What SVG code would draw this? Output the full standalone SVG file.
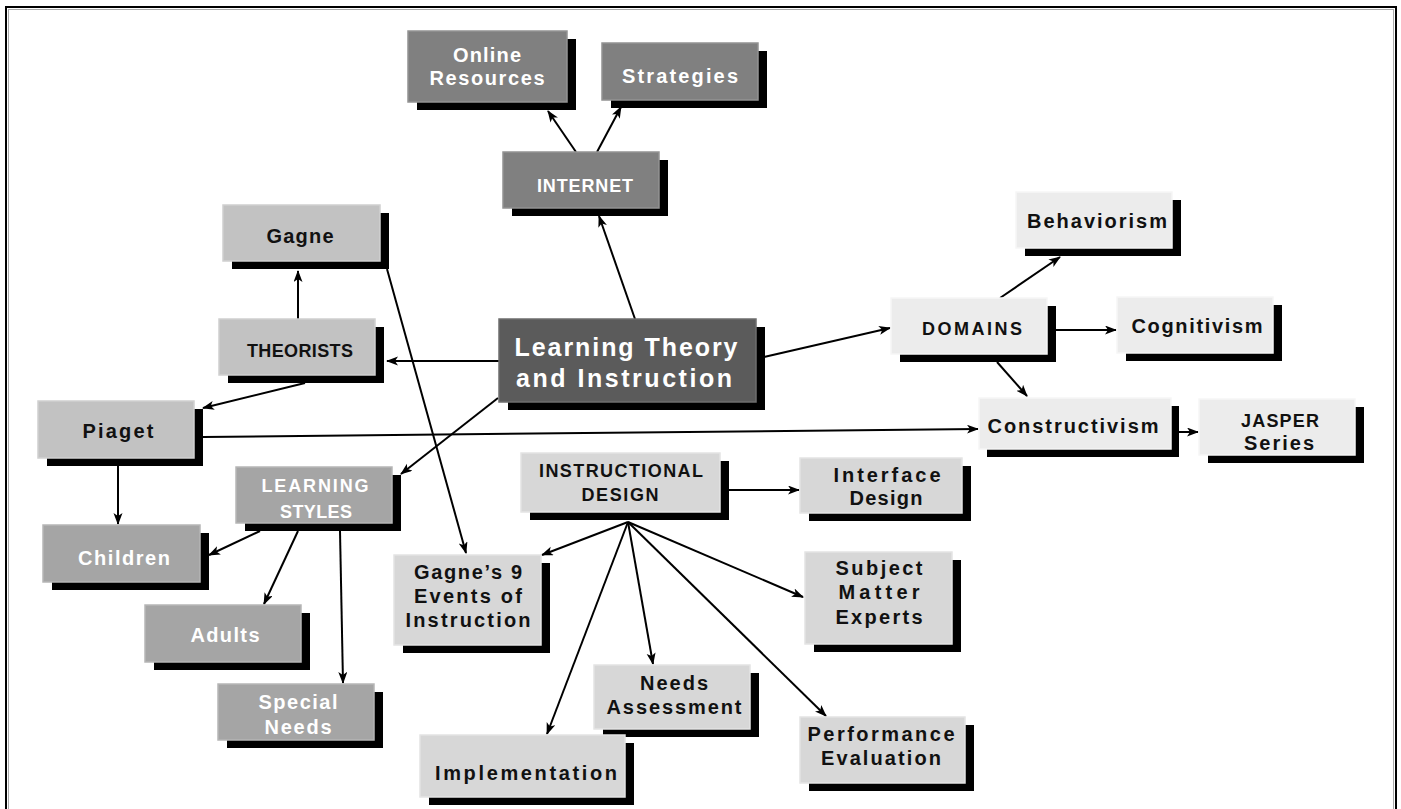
<svg xmlns="http://www.w3.org/2000/svg" width="1401" height="809" viewBox="0 0 1401 809">
<defs>
<marker id="ah" markerUnits="userSpaceOnUse" markerWidth="12" markerHeight="10" refX="11" refY="4.5" orient="auto">
<path d="M0,0 L12,4.5 L0,9 L3,4.5 z" fill="#000"/>
</marker>
</defs>
<style>
.sh{fill:#000}
.f{stroke-width:1.5}
.dk{fill:#5b5b5b;stroke:#6e6e6e}
.md{fill:#808080;stroke:#939393}
.ml{fill:#a5a5a5;stroke:#b6b6b6}
.lt{fill:#c2c2c2;stroke:#d0d0d0}
.lr{fill:#d7d7d7;stroke:#e4e4e4}
.ll{fill:#ececec;stroke:#f6f6f6}
text{font-family:"Liberation Sans",Arial,sans-serif;font-weight:bold;font-size:20px;text-anchor:middle}
.u{font-size:18px}
.w{fill:#fff}
.b{fill:#111}
.big{font-size:25px}
.c line{stroke:#000;stroke-width:2;marker-end:url(#ah)}
</style>
<rect x="6" y="7" width="1390" height="812" fill="#fff" stroke="#000" stroke-width="2"/>
<rect x="8.5" y="9.5" width="1385" height="810" fill="none" stroke="#aaa" stroke-width="1"/>

<g class="c" id="connectors">
<line x1="576" y1="152" x2="548" y2="111"/>
<line x1="597" y1="152" x2="621" y2="107"/>
<line x1="635" y1="319" x2="599" y2="216"/>
<line x1="499" y1="361" x2="387" y2="361"/>
<line x1="298" y1="319" x2="298" y2="271"/>
<line x1="305" y1="383" x2="203" y2="408"/>
<line x1="203" y1="437" x2="978" y2="429"/>
<line x1="118" y1="466" x2="118" y2="524"/>
<line x1="498" y1="398" x2="401" y2="474"/>
<line x1="387" y1="269" x2="466" y2="553"/>
<line x1="260" y1="531" x2="209" y2="555"/>
<line x1="298" y1="531" x2="264" y2="604"/>
<line x1="340" y1="531" x2="343" y2="683"/>
<line x1="764" y1="357" x2="890" y2="328"/>
<line x1="1000" y1="298" x2="1060" y2="257"/>
<line x1="1056" y1="330" x2="1116" y2="330"/>
<line x1="997" y1="362" x2="1027" y2="396"/>
<line x1="1178" y1="432" x2="1198" y2="432"/>
<line x1="729" y1="490" x2="799" y2="490"/>
<line x1="628" y1="522" x2="542" y2="555"/>
<line x1="628" y1="522" x2="547" y2="734"/>
<line x1="628" y1="522" x2="653" y2="664"/>
<line x1="628" y1="522" x2="803" y2="597"/>
<line x1="628" y1="522" x2="826" y2="716"/>
</g>

<g id="online-resources"><rect class="sh" x="417" y="39" width="159" height="71"/><rect class="f md" x="408" y="31" width="159" height="71"/><text class="w" x="487" y="62" textLength="68">Online</text><text class="w" x="487" y="85" textLength="115">Resources</text></g>
<g id="strategies"><rect class="sh" x="611" y="51" width="156" height="57"/><rect class="f md" x="602" y="43" width="156" height="57"/><text class="w" x="680" y="83" textLength="116">Strategies</text></g>
<g id="internet"><rect class="sh" x="512" y="160" width="156" height="56"/><rect class="f md" x="503" y="152" width="156" height="56"/><text class="w u" x="585" y="192" textLength="96">INTERNET</text></g>
<g id="gagne"><rect class="sh" x="232" y="213" width="157" height="56"/><rect class="f lt" x="223" y="205" width="157" height="56"/><text class="b" x="300" y="243" textLength="67">Gagne</text></g>
<g id="theorists"><rect class="sh" x="228" y="327" width="156" height="56"/><rect class="f lt" x="219" y="319" width="156" height="56"/><text class="b u" x="300" y="357" textLength="106">THEORISTS</text></g>
<g id="piaget"><rect class="sh" x="47" y="409" width="156" height="57"/><rect class="f lt" x="38" y="401" width="156" height="57"/><text class="b" x="118" y="438" textLength="71">Piaget</text></g>
<g id="learning-theory"><rect class="sh" x="508" y="327" width="257" height="83"/><rect class="f dk" x="499" y="319" width="257" height="83"/><text class="w big" x="626" y="356" textLength="223">Learning Theory</text><text class="w big" x="624" y="387" textLength="216">and Instruction</text></g>
<g id="domains"><rect class="sh" x="900" y="306" width="156" height="56"/><rect class="f ll" x="891" y="298" width="156" height="56"/><text class="b u" x="972" y="335" textLength="100">DOMAINS</text></g>
<g id="behaviorism"><rect class="sh" x="1025" y="200" width="156" height="56"/><rect class="f ll" x="1016" y="192" width="156" height="56"/><text class="b" x="1097" y="228" textLength="140">Behaviorism</text></g>
<g id="cognitivism"><rect class="sh" x="1126" y="305" width="156" height="56"/><rect class="f ll" x="1117" y="297" width="156" height="56"/><text class="b" x="1197" y="333" textLength="131">Cognitivism</text></g>
<g id="constructivism"><rect class="sh" x="987" y="406" width="192" height="51"/><rect class="f ll" x="979" y="398" width="192" height="51"/><text class="b" x="1073" y="433" textLength="171">Constructivism</text></g>
<g id="jasper"><rect class="sh" x="1208" y="407" width="156" height="56"/><rect class="f ll" x="1199" y="399" width="156" height="56"/><text class="b u" x="1280" y="427" textLength="78">JASPER</text><text class="b" x="1279" y="450" textLength="70">Series</text></g>
<g id="learning-styles"><rect class="sh" x="245" y="475" width="156" height="56"/><rect class="f ml" x="236" y="467" width="156" height="56"/><text class="w u" x="315" y="492" textLength="107">LEARNING</text><text class="w u" x="316" y="518" textLength="72">STYLES</text></g>
<g id="children"><rect class="sh" x="52" y="533" width="157" height="57"/><rect class="f ml" x="43" y="525" width="157" height="57"/><text class="w" x="124" y="565" textLength="92">Children</text></g>
<g id="adults"><rect class="sh" x="154" y="613" width="156" height="57"/><rect class="f ml" x="145" y="605" width="156" height="57"/><text class="w" x="225" y="642" textLength="69">Adults</text></g>
<g id="special-needs"><rect class="sh" x="227" y="692" width="156" height="56"/><rect class="f ml" x="218" y="684" width="156" height="56"/><text class="w" x="298" y="709" textLength="79">Special</text><text class="w" x="298" y="734" textLength="67">Needs</text></g>
<g id="instructional-design"><rect class="sh" x="530" y="461" width="199" height="59"/><rect class="f lr" x="521" y="453" width="199" height="59"/><text class="b u" x="621" y="477" textLength="164">INSTRUCTIONAL</text><text class="b u" x="620" y="501" textLength="77">DESIGN</text></g>
<g id="interface-design"><rect class="sh" x="809" y="466" width="162" height="55"/><rect class="f lr" x="800" y="458" width="162" height="55"/><text class="b" x="887" y="482" textLength="107">Interface</text><text class="b" x="886" y="505" textLength="73">Design</text></g>
<g id="gagnes-9"><rect class="sh" x="403" y="563" width="147" height="90"/><rect class="f lr" x="394" y="555" width="147" height="90"/><text class="b" x="468" y="579" textLength="108">Gagne’s 9</text><text class="b" x="468" y="603" textLength="108">Events of</text><text class="b" x="468" y="627" textLength="125">Instruction</text></g>
<g id="subject-matter"><rect class="sh" x="814" y="560" width="147" height="92"/><rect class="f lr" x="805" y="552" width="147" height="92"/><text class="b" x="879" y="575" textLength="87">Subject</text><text class="b" x="879" y="599" textLength="81">Matter</text><text class="b" x="879" y="624" textLength="87">Experts</text></g>
<g id="needs-assessment"><rect class="sh" x="603" y="673" width="156" height="64"/><rect class="f lr" x="594" y="665" width="156" height="64"/><text class="b" x="674" y="690" textLength="68">Needs</text><text class="b" x="674" y="714" textLength="135">Assessment</text></g>
<g id="performance-evaluation"><rect class="sh" x="809" y="725" width="165" height="66"/><rect class="f lr" x="800" y="717" width="165" height="66"/><text class="b" x="881" y="741" textLength="147">Performance</text><text class="b" x="881" y="765" textLength="120">Evaluation</text></g>
<g id="implementation"><rect class="sh" x="429" y="743" width="205" height="62"/><rect class="f lr" x="420" y="735" width="205" height="62"/><text class="b" x="526" y="780" textLength="182">Implementation</text></g>
</svg>
